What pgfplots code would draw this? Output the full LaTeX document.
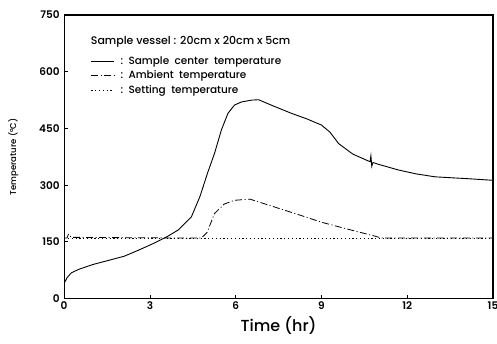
\documentclass[border=0pt]{standalone}
\usepackage{fontspec}
\setmainfont{Poppins}[UprightFont={* Medium}, BoldFont={* SemiBold}]
\usepackage{pgfplots}
\pgfplotsset{compat=1.18}
\begin{document}
\begin{tikzpicture}
\begin{axis}[
  scale only axis, width=428bp, height=283bp,
  xmin=0, xmax=15, ymin=0, ymax=750,
  xtick={0,3,6,9,12,15}, ytick={0,150,300,450,600,750},
  xtick pos=bottom, ytick pos=left,
  tick align=inside, major tick length=4bp,
  axis line style={line width=1.2pt},
  tick style={black, line width=0.8pt},
  /pgf/number format/assume math mode=true,
  ticklabel style={font=\fontsize{10.5}{12}\selectfont\bfseries},
  yticklabel style={xshift=-1pt},
  xlabel={Time (hr)}, ylabel={Temperature (°C)},
  xlabel style={font=\fontsize{16}{19}\selectfont, yshift=0pt},
  ylabel style={font=\fontsize{8.5}{10}\selectfont, yshift=14pt},
  legend style={draw=none, fill=none, at={(rel axis cs:0.062,0.862)}, anchor=north west,
    font=\fontsize{10.5}{12}\selectfont, row sep=1pt, inner sep=0pt, nodes={inner xsep=4pt}},
  legend cell align=left,
  legend image code/.code={\draw[#1] (0cm,0cm) -- (0.8cm,0cm);},
]
\addplot[black, line width=0.9pt] coordinates {
(0,40) (0.1,55) (0.25,68) (0.5,77) (1,90) (1.5,100) (2.1,112) (2.6,128) (3.1,145)
(3.63,165) (4,182) (4.45,216) (4.75,270) (5.03,335) (5.26,384) (5.5,446) (5.73,490)
(5.96,512) (6.2,520) (6.56,525) (6.8,526) (7.3,510) (7.95,490) (8.5,475) (9.0,459)
(9.3,440) (9.6,410) (10.1,382) (10.7,362) (10.73,378) (10.76,350) (10.8,360)
(11.0,355) (11.7,340) (12.3,330) (12.98,322) (14.15,317) (14.97,313)};
\addlegendentry{\hspace{2bp}:\ \ Sample\ \ center\ \ temperature}
\addplot[black, line width=0.8pt, dash pattern=on 7pt off 2.5pt on 1pt off 2.5pt] coordinates {
(0,160) (0.1,160) (0.15,170) (0.25,162) (4.8,160) (5.0,175) (5.26,225) (5.6,250)
(5.96,260) (6.5,263) (7.37,242) (8.2,222) (9.0,202) (10.0,182) (10.88,165) (11.1,160) (15,160)};
\addlegendentry{\hspace{2bp}:\ \ Ambient\ \ temperature}
\addplot[black, line width=0.8pt, dash pattern=on 1.2pt off 2.6pt] coordinates {(0,160) (15,160)};
\addlegendentry{\hspace{2bp}:\ \ Setting\ \ temperature}
\node[anchor=west, inner sep=0pt, font=\fontsize{11}{13}\selectfont] at (rel axis cs:0.062,0.905) {Sample\ vessel : 20cm x 20cm x 5cm};
\coordinate (ll) at (rel axis cs:0,0);
\coordinate (ur) at (rel axis cs:1,1);
\end{axis}
\pgfresetboundingbox
\useasboundingbox ([xshift=-64bp,yshift=-45bp]ll) rectangle ([xshift=4bp,yshift=15bp]ur);
\end{tikzpicture}
\end{document}
